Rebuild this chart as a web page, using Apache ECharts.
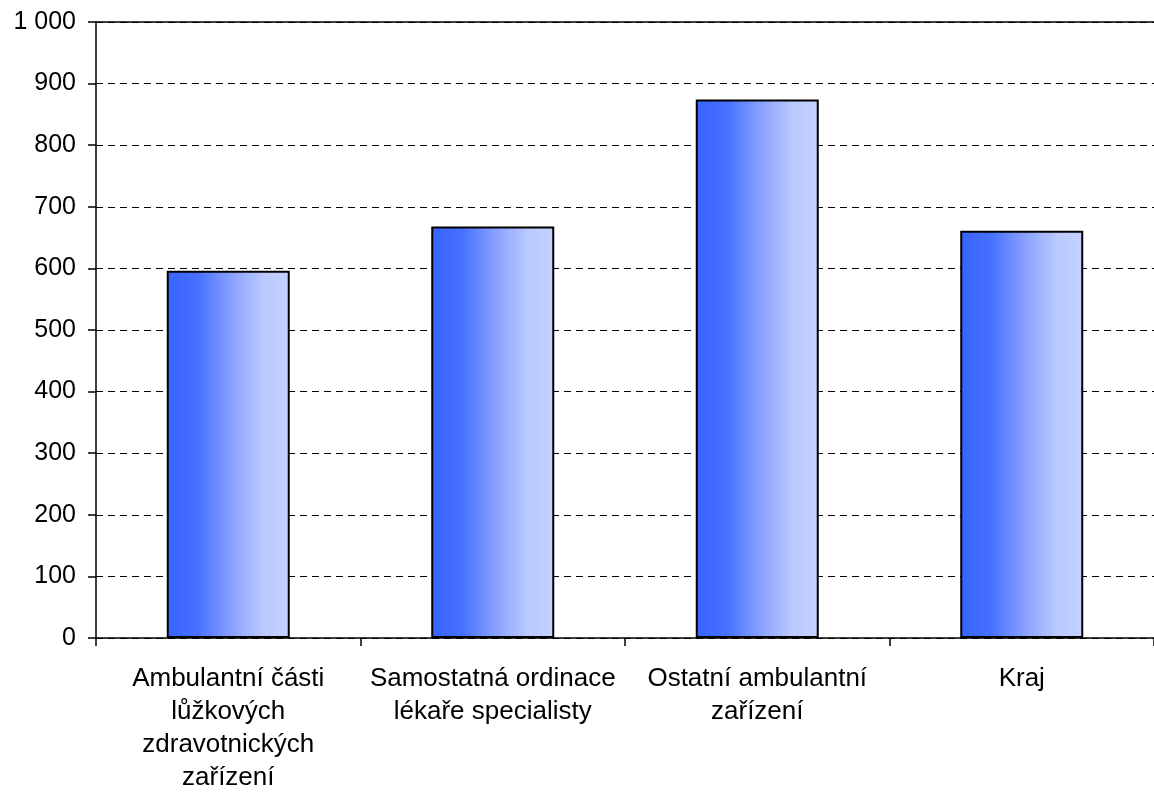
<!DOCTYPE html>
<html>
<head>
<meta charset="utf-8">
<script src="https://cdn.jsdelivr.net/npm/echarts@6/dist/echarts.min.js"></script>
<style>
  html, body { margin: 0; padding: 0; background: #fff; }
  #chart { width: 1154px; height: 794px; }
</style>
</head>
<body>
<div id="chart"></div>
<script>
const categories = [
  'Ambulantní části\nlůžkových\nzdravotnických\nzařízení',
  'Samostatná ordinace\nlékaře specialisty',
  'Ostatní ambulantní\nzařízení',
  'Kraj'
]
const values = [596, 668, 874, 661]
const yMin = 0
const yMax = 1000
const yStep = 100

const chart = echarts.init(document.getElementById('chart'))

const barFill = new echarts.graphic.LinearGradient(0, 0, 1, 0, [
  { offset: 0, color: '#3864ff' },
  { offset: 0.25, color: '#4670ff' },
  { offset: 0.55, color: '#8ea5ff' },
  { offset: 0.78, color: '#b9c8ff' },
  { offset: 1, color: '#c4d2ff' }
])

chart.setOption({
  animation: false,
  textStyle: { fontFamily: 'Liberation Sans, Arial, sans-serif' },
  grid: { left: 96, right: 0, top: 22, bottom: 154 },
  xAxis: [
    {
      type: 'category',
      data: categories,
      axisLine: { lineStyle: { color: '#000', width: 1.5 } },
      axisTick: { show: true, length: 8, alignWithLabel: false, lineStyle: { color: '#000', width: 1.5 } },
      axisLabel: {
        color: '#000',
        fontSize: 26,
        lineHeight: 33,
        margin: 24,
        interval: 0
      }
    },
    {
      type: 'category',
      position: 'top',
      data: categories,
      axisLine: { show: true, lineStyle: { color: '#000', width: 1.5 } },
      axisTick: { show: false },
      axisLabel: { show: false }
    }
  ],
  yAxis: {
    type: 'value',
    min: yMin,
    max: yMax,
    interval: yStep,
    axisLine: { show: true, lineStyle: { color: '#000', width: 1.5 } },
    axisTick: { show: true, length: 8, lineStyle: { color: '#000', width: 1.5 } },
    axisLabel: {
      color: '#000',
      fontSize: 25,
      margin: 20,
      formatter: v => String(v).replace(/\B(?=(\d{3})+(?!\d))/g, ' ')
    },
    splitLine: {
      lineStyle: { color: '#000', width: 1, type: [7, 5] }
    }
  },
  series: [
    {
      type: 'bar',
      data: values,
      barWidth: '46.5%',
      itemStyle: {
        color: barFill,
        borderColor: '#000',
        borderWidth: 2
      }
    }
  ]
})

window.addEventListener('resize', () => chart.resize())
</script>
</body>
</html>
